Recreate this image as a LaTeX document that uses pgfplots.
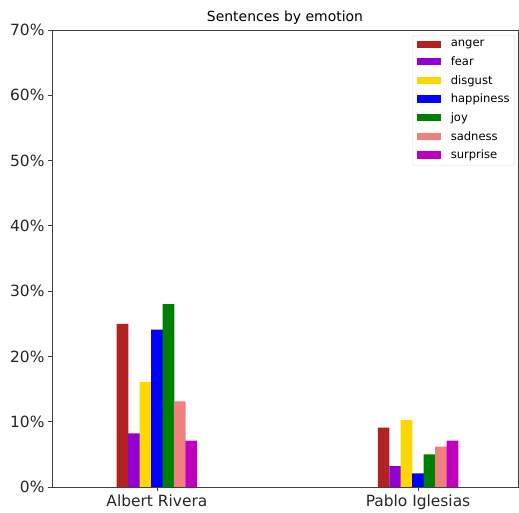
\documentclass[border=0pt]{standalone}
\usepackage{pgfplots}
\pgfplotsset{compat=1.18}
\usepackage{fontspec}
\setmainfont{DejaVu Sans}
\definecolor{anger}{RGB}{178,34,34}
\definecolor{fear}{RGB}{148,0,211}
\definecolor{disgust}{RGB}{255,215,0}
\definecolor{happy}{RGB}{0,0,255}
\definecolor{joy}{RGB}{0,128,0}
\definecolor{sad}{RGB}{240,128,128}
\definecolor{surprise}{RGB}{191,0,191}

\begin{document}
\begin{tikzpicture}
\begin{axis}[
    name=ax,
    scale only axis, width=466bp, height=457bp,
    ybar, bar width=11.7bp,
    xmin=-0.402, xmax=1.383, ymin=0, ymax=70,
    xtick={0,1}, xticklabels={Albert Rivera, Pablo Iglesias},
    ytick={0,10,...,70}, yticklabel={\pgfmathprintnumber{\tick}\%},
    /pgf/number format/assume math mode=true,
    tick align=outside, tick pos=left,
    major tick length=4bp,
    every tick/.style={black!75, line width=0.8pt},
    axis line style={black!75, line width=0.8pt},
    tick label style={font=\fontsize{15.5}{18}\selectfont, text=black!85},
    title={Sentences by emotion},
    title style={font=\fontsize{14}{16}\selectfont, yshift=-4bp},
    legend style={at={(0.993,0.989)}, anchor=north east,
      font=\fontsize{11.6}{14}\selectfont, draw=black!15, rounded corners=2pt,
      row sep=6.4bp, column sep=9bp, inner xsep=4bp, inner ysep=4bp,
      nodes={inner sep=1bp}},
    legend cell align=left,
    legend image code/.code={\fill[#1, sharp corners] (0bp,-3.7bp) rectangle (24bp,3.7bp);},
    enlarge x limits=false,
  ]
  \addplot[fill=anger, draw=none, bar shift=-34.4bp] coordinates {(0,25.0) (1,9.1)};
  \addplot[fill=fear, draw=none, bar shift=-22.9bp] coordinates {(0,8.2) (1,3.2)};
  \addplot[fill=disgust, draw=none, bar shift=-11.46bp] coordinates {(0,16.1) (1,10.3)};
  \addplot[fill=happy, draw=none, bar shift=0bp] coordinates {(0,24.1) (1,2.1)};
  \addplot[fill=joy, draw=none, bar shift=11.46bp] coordinates {(0,28.0) (1,5.0)};
  \addplot[fill=sad, draw=none, bar shift=22.9bp] coordinates {(0,13.1) (1,6.2)};
  \addplot[fill=surprise, draw=none, bar shift=34.4bp] coordinates {(0,7.1) (1,7.1)};
  \legend{anger, fear, disgust, happiness, joy, sadness, surprise}
\end{axis}
\path ([shift={(-52bp,-23bp)}]ax.south west) ([shift={(1bp,30bp)}]ax.north east);
\end{tikzpicture}
\end{document}
